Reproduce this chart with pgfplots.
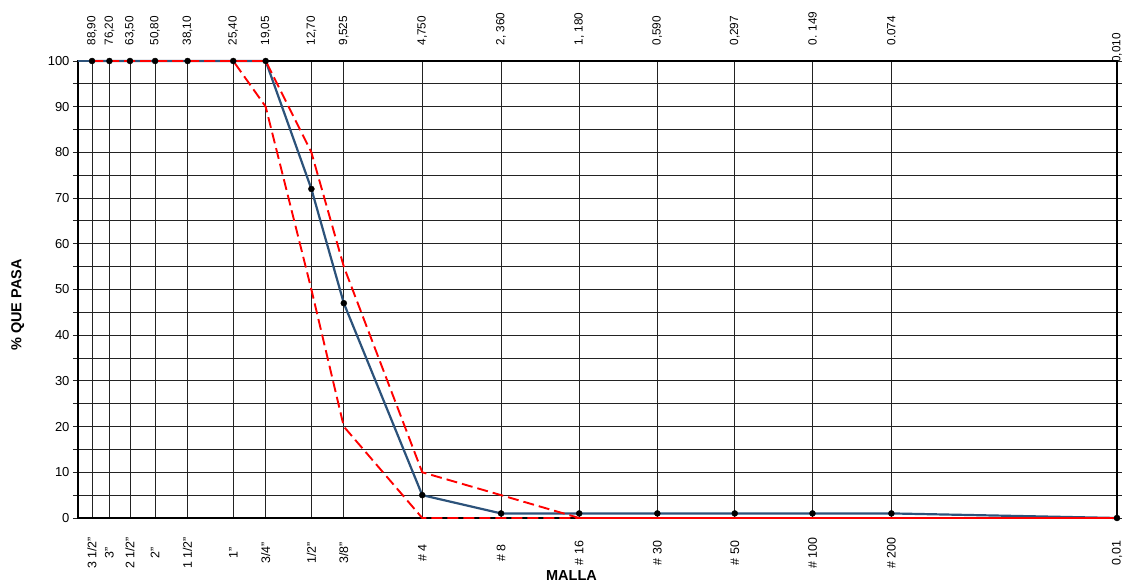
\documentclass[border=0pt]{standalone}
\usepackage{fontspec}
\setmainfont{Liberation Sans}
\usepackage{pgfplots}
\pgfplotsset{compat=1.18}
\definecolor{curveblue}{RGB}{44,82,122}
\definecolor{gridc}{RGB}{35,35,35}
\begin{document}
\begin{tikzpicture}
\useasboundingbox (-78pt,-65pt) rectangle (1046pt,518pt);
\begin{axis}[
  at={(0pt,0pt)}, anchor=south west,
  scale only axis, width=1039pt, height=457pt,
  xmode=log, x dir=reverse,
  xmin=0.01, xmax=100.7, ymin=0, ymax=100,
  xtick={88.9,76.2,63.5,50.8,38.1,25.4,19.05,12.7,9.525,4.75,2.36,1.18,0.59,0.297,0.149,0.074,0.01},
  xticklabels={3 1/2",3",2 1/2",2",1 1/2",1",3/4",1/2",3/8",\# 4,\# 8,\# 16,\# 30,\# 50,\# 100,\# 200,{0,01}},
  minor xtick={},
  xticklabel style={rotate=90, anchor=center, font=\fontsize{12.4}{13}\selectfont, xshift=-30pt},
  major x tick style={draw=none},
  ytick={0,10,...,100},
  minor ytick={5,15,...,95},
  yticklabel style={font=\fontsize{13}{14}\selectfont},
  /pgf/number format/assume math mode=true,
  tick align=outside, major tick length=5pt, minor tick length=5pt,
  every tick/.style={gridc, line width=0.9pt},
  xmajorgrids, ymajorgrids, yminorgrids,
  grid style={gridc, line width=0.9pt},
  minor grid style={gridc, line width=0.9pt},
  axis line style={black, line width=1.2pt},
  xlabel={\bfseries MALLA},
  ylabel={\bfseries \% QUE PASA},
  xlabel style={font=\fontsize{14.5}{16}\selectfont, at={(axis description cs:0.475,-0.125)}, anchor=center},
  ylabel style={font=\fontsize{14.5}{16}\selectfont, at={(axis description cs:-0.058,0.466)}, anchor=center, rotate=0},
  clip=false,
]
% blue curve line
\addplot[curveblue, line width=2.2pt] coordinates {(100.7,100)(88.9,100)};
\addplot[curveblue, line width=2.2pt] coordinates {
(88.9,100)(76.2,100)(63.5,100)(50.8,100)(38.1,100)(25.4,100)(19.05,100)(12.7,72)(9.525,47)(4.75,5)(2.36,1)(1.18,1)(0.59,1)(0.297,1)(0.149,1)(0.074,1)(0.01,0)};
% upper limit
\addplot[red, line width=1.9pt, dash pattern=on 11pt off 5pt] coordinates {
(88.9,100)(76.2,100)(63.5,100)(50.8,100)(38.1,100)(25.4,100)(19.05,100)(12.7,80)(9.525,55)(4.75,10)(2.36,5)(1.18,0)(0.59,0)(0.297,0)(0.149,0)(0.074,0)(0.01,0)};
% lower limit
\addplot[red, line width=1.9pt, dash pattern=on 11pt off 5pt] coordinates {
(88.9,100)(76.2,100)(63.5,100)(50.8,100)(38.1,100)(25.4,100)(19.05,90)(12.7,50)(9.525,20)(4.75,0)(2.36,0)(1.18,0)(0.59,0)(0.297,0)(0.149,0)(0.074,0)(0.01,0)};
% markers
\addplot[only marks, mark=*, mark size=3pt, black] coordinates {
(88.9,100)(76.2,100)(63.5,100)(50.8,100)(38.1,100)(25.4,100)(19.05,100)(12.7,72)(9.525,47)(4.75,5)(2.36,1)(1.18,1)(0.59,1)(0.297,1)(0.149,1)(0.074,1)(0.01,0)};
\end{axis}
\begin{axis}[
  at={(0pt,0pt)}, anchor=south west,
  scale only axis, width=1039pt, height=457pt,
  xmode=log, x dir=reverse,
  xmin=0.01, xmax=100.7, ymin=0, ymax=100,
  axis x line*=top, hide y axis,
  axis line style={draw=none},
  xtick={88.9,76.2,63.5,50.8,38.1,25.4,19.05,12.7,9.525,4.75,2.36,1.18,0.59,0.297,0.149,0.074},
  xticklabels={{88,90},{76,20},{63,50},{50,80},{38,10},{25,40},{19,05},{12,70},{9,525},{4,750},{2, 360},{1, 180},{0,590},{0,297},{0. 149},{0.074}},
  minor xtick={},
  major x tick style={draw=none},
  xticklabel style={rotate=90, anchor=west, font=\fontsize{11.8}{12}\selectfont, xshift=12pt},
  clip=false,
]
\node[font=\fontsize{11.8}{12}\selectfont, rotate=90, anchor=west, inner sep=0pt] at ([yshift=-2pt]axis cs:0.01,100) {0,010};
\end{axis}
\end{tikzpicture}
\end{document}
